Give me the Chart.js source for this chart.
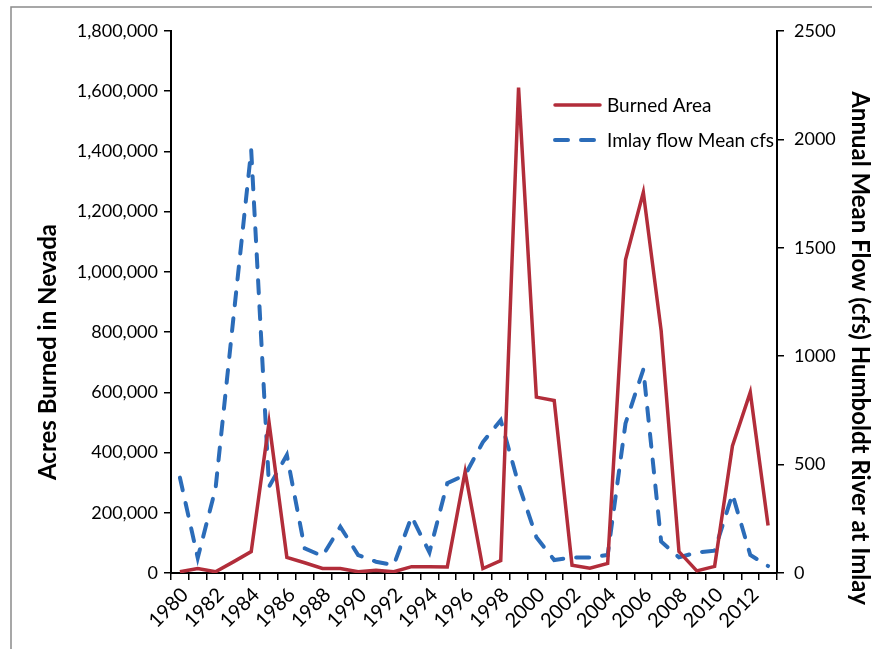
<!DOCTYPE html>
<html>
<head>
<meta charset="utf-8">
<script src="https://cdn.jsdelivr.net/npm/chart.js@4"></script>
<style>
  html, body { margin: 0; padding: 0; background: #fff; }
  #wrap { width: 872px; height: 649px; }
</style>
</head>
<body>
<div id="wrap"><canvas id="chart" width="872" height="649"></canvas></div>
<script>
const years = [];
for (let y = 1980; y <= 2013; y++) years.push(String(y));

// acres burned in Nevada
const burnedArea = [
  4000, 15000, 4000, 37000, 71000, 500000, 52000, 34000, 15000, 15000,
  4000, 9000, 4000, 21000, 21000, 20000, 336000, 15000, 41000, 1612000,
  584000, 573000, 26000, 16000, 32000, 1040000, 1264000, 805000, 71000, 7000,
  22000, 422000, 600000, 158000
];

// Humboldt River at Imlay, annual mean flow (cfs)
const imlayFlow = [
  440, 70, 390, 1175, 1950, 398, 544, 114, 78, 213,
  83, 52, 37, 260, 95, 414, 452, 604, 705, 410,
  165, 60, 71, 71, 83, 690, 939, 145, 72, 95,
  103, 364, 83, 32
];

const leftTitle = "Acres Burned in Nevada";
const rightTitle = "Annual Mean Flow (cfs) Humboldt River at Imlay";

const RED = "#b22d3a";
const BLUE = "#2b6cb9";
const FONT = "Lato, 'Open Sans', sans-serif";

// frame, axis titles and the legend inside the plot
const extras = {
    id: "extras",
    beforeDraw(chart) {
        const c = chart.ctx;
        c.save();
        c.fillStyle = "#fff";
        c.fillRect(0, 0, chart.width, chart.height);
        c.strokeStyle = "#8a8a8a";
        c.lineWidth = 1.5;
        c.strokeRect(11, 7, chart.width + 20, chart.height + 20);
        c.restore();
    },
    afterDraw(chart) {
        const c = chart.ctx;
        c.save();
        c.fillStyle = "#000";
        c.font = "bold 24px " + FONT;
        c.textAlign = "center";
        c.textBaseline = "middle";

        c.translate(48, 352);
        c.rotate(-Math.PI / 2);
        c.fillText(leftTitle, 0, 0);
        c.setTransform(1, 0, 0, 1, 0, 0);

        c.translate(860, 348);
        c.rotate(Math.PI / 2);
        c.fillText(rightTitle, 0, 0);
        c.setTransform(1, 0, 0, 1, 0, 0);

        // legend
        c.font = "19px " + FONT;
        c.textAlign = "left";
        chart.data.datasets.forEach((ds, i) => {
            const y = 105 + i * 35;
            c.beginPath();
            c.strokeStyle = ds.borderColor;
            c.lineWidth = ds.borderWidth;
            c.lineCap = "round";
            c.setLineDash(ds.borderDash || []);
            c.moveTo(555, y);
            c.lineTo(600, y);
            c.stroke();
            c.setLineDash([]);
            c.fillStyle = "#000";
            c.fillText(ds.label, 607, y + 1);
        });
        c.restore();
    }
};

const ctx = document.getElementById("chart").getContext("2d");

new Chart(ctx, {
    type: "line",
    data: {
        labels: years,
        datasets: [
            {
                label: "Burned Area",
                data: burnedArea,
                yAxisID: "y",
                borderColor: RED,
                backgroundColor: RED,
                borderWidth: 3.5,
                pointRadius: 0,
                tension: 0,
            },
            {
                label: "Imlay flow Mean cfs",
                data: imlayFlow,
                yAxisID: "y1",
                borderColor: BLUE,
                backgroundColor: BLUE,
                borderWidth: 4,
                borderDash: [13, 13],
                borderCapStyle: "round",
                pointRadius: 0,
                tension: 0,
            },
        ],
    },
    options: {
        responsive: false,
        animation: false,
        layout: { padding: { top: 31, left: 0, right: 0, bottom: 0 } },
        plugins: {
            legend: { display: false },
            tooltip: { enabled: false },
        },
        scales: {
            x: {
                offset: true,
                grid: {
                    offset: true,
                    drawOnChartArea: false,
                    tickLength: 7,
                    color: "#000",
                    lineWidth: 1.5,
                },
                border: { color: "#000", width: 2 },
                ticks: {
                    autoSkip: false,
                    minRotation: 45,
                    maxRotation: 45,
                    labelOffset: 5,
                    padding: 3,
                    color: "#000",
                    font: { family: FONT, size: 20 },
                    callback: (v, i) => (i % 2 === 0 ? years[i] : ""),
                },
                afterFit: (s) => { s.height = 76; },
            },
            y: {
                position: "left",
                min: 0,
                max: 1800000,
                grid: {
                    drawOnChartArea: false,
                    tickLength: 7,
                    color: "#000",
                    lineWidth: 1.5,
                },
                border: { color: "#000", width: 2 },
                ticks: {
                    stepSize: 200000,
                    padding: 6,
                    color: "#000",
                    font: { family: FONT, size: 18 },
                    callback: (v) => v.toLocaleString("en-US"),
                },
                afterFit: (s) => { s.width = 171; },
            },
            y1: {
                position: "right",
                min: 0,
                max: 2500,
                grid: {
                    drawOnChartArea: false,
                    tickLength: 7,
                    color: "#000",
                    lineWidth: 1.5,
                },
                border: { color: "#000", width: 2 },
                ticks: {
                    stepSize: 500,
                    padding: 10,
                    color: "#000",
                    font: { family: FONT, size: 18 },
                    callback: (v) => String(v),
                },
                afterFit: (s) => { s.width = 95; },
            },
        },
    },
    plugins: [extras],
});
</script>
</body>
</html>
